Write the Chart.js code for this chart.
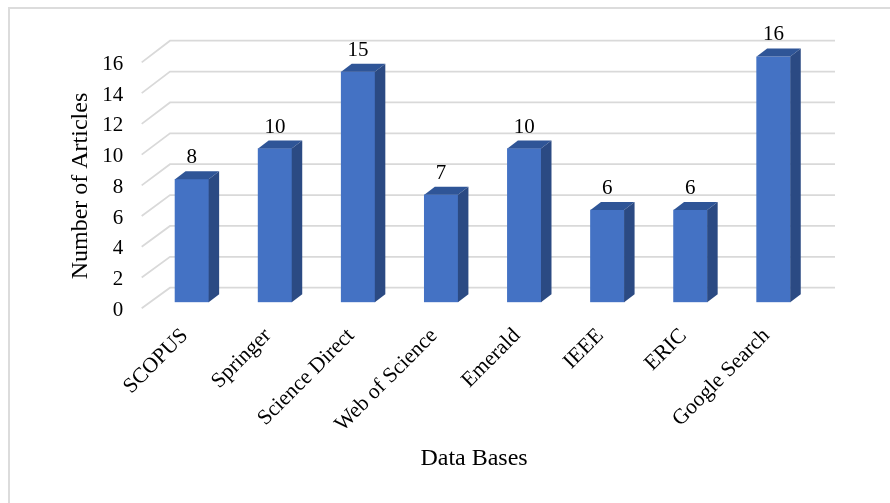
<!DOCTYPE html>
<html>
<head>
<meta charset="utf-8">
<script src="https://cdn.jsdelivr.net/npm/chart.js@4"></script>
<style>
html,body{margin:0;padding:0;background:#fff;overflow:hidden}
#wrap{position:relative;width:890px;height:503px}
#frame{position:absolute;left:8px;top:7px;right:0;bottom:0;border-top:2px solid #dcdcdc;border-left:2px solid #dcdcdc}
canvas{position:absolute;left:0;top:0}
</style>
</head>
<body>
<div id="wrap"><div id="frame"></div><canvas id="c" width="890" height="503"></canvas></div>
<script>
const categories = ["SCOPUS","Springer","Science Direct","Web of Science","Emerald","IEEE","ERIC","Google Search"];
const articleCounts = [8,10,15,7,10,6,6,16];
const seriesName = "Number of Articles";
const xAxisTitle = "Data Bases";
const yAxisTitle = "Number of Articles";

const FONT = '"Liberation Serif","Times New Roman",serif';
const DEPTH_X = 10.5, DEPTH_Y = 8;

const depthPlugin = {
  id: 'depth',
  beforeDatasetsDraw(chart) {
    const ctx = chart.ctx, y = chart.scales.y;
    const base = y.getPixelForValue(0);
    ctx.save();
    ctx.strokeStyle = '#d9d9d9';
    ctx.lineWidth = 1.8;
    y.ticks.forEach(t => {
      const p = y.getPixelForValue(t.value);
      const back = base - 14.6 + (p - base) * 1.0045;
      ctx.beginPath();
      ctx.moveTo(141.7, p + 6);
      ctx.lineTo(170, back);
      ctx.lineTo(835, back);
      ctx.stroke();
    });
    ctx.restore();
  },
  afterDatasetsDraw(chart) {
    const ctx = chart.ctx;
    const meta = chart.getDatasetMeta(0);
    const ds = chart.data.datasets[0];
    ctx.save();
    meta.data.forEach((bar, i) => {
      const l = bar.x - bar.width / 2, r = bar.x + bar.width / 2;
      // top face
      ctx.fillStyle = '#2f5597';
      ctx.beginPath();
      ctx.moveTo(l, bar.y);
      ctx.lineTo(l + DEPTH_X, bar.y - DEPTH_Y);
      ctx.lineTo(r + DEPTH_X, bar.y - DEPTH_Y);
      ctx.lineTo(r, bar.y);
      ctx.closePath();
      ctx.fill();
      // side face
      ctx.fillStyle = '#2b4a83';
      ctx.beginPath();
      ctx.moveTo(r, bar.y);
      ctx.lineTo(r + DEPTH_X, bar.y - DEPTH_Y);
      ctx.lineTo(r + DEPTH_X, bar.base - DEPTH_Y);
      ctx.lineTo(r, bar.base);
      ctx.closePath();
      ctx.fill();
      // value label
      ctx.fillStyle = '#000';
      ctx.font = '21px ' + FONT;
      ctx.textAlign = 'center';
      ctx.textBaseline = 'middle';
      ctx.fillText(String(ds.data[i]), bar.x, bar.y - 21.5);
    });
    ctx.restore();
  },
  beforeDraw(chart) {
    const shift = (scale, dx, dy) => {
      if (scale._titleShifted) return;
      const orig = scale.drawTitle;
      scale.drawTitle = function () {
        this.ctx.save();
        this.ctx.translate(dx, dy);
        orig.call(this);
        this.ctx.restore();
      };
      scale._titleShifted = true;
    };
    shift(chart.scales.x, -8.6, 3.2);
    shift(chart.scales.y, -2.4, 6.7);
  }
};

new Chart(document.getElementById('c'), {
  type: 'bar',
  data: {
    labels: categories,
    datasets: [{
      label: seriesName,
      data: articleCounts,
      backgroundColor: '#4472c4',
      borderWidth: 0,
      barThickness: 33.6
    }]
  },
  options: {
    responsive: false,
    animation: false,
    devicePixelRatio: 1,
    layout: { padding: { left: 69, top: 56.4, right: 75, bottom: 33 } },
    plugins: { legend: { display: false }, tooltip: { enabled: false } },
    scales: {
      x: {
        grid: { display: false, drawTicks: false },
        border: { display: false },
        ticks: { color: '#000', font: { family: FONT, size: 21.6 }, minRotation: 45, maxRotation: 45, padding: 21, labelOffset: -7, autoSkip: false },
        title: { display: true, text: xAxisTitle, color: '#000', font: { family: FONT, size: 24 }, padding: 0 },
        afterFit(s) { s.height = 167.7; }
      },
      y: {
        min: 0, max: 16,
        grid: { display: false, drawTicks: false },
        border: { display: false },
        ticks: { stepSize: 2, color: '#000', font: { family: FONT, size: 21 }, padding: 27, labelOffset: 8 },
        title: { display: true, text: yAxisTitle, color: '#000', font: { family: FONT, size: 24 }, padding: 0 },
        afterFit(s) { s.width = 81.3; }
      }
    }
  },
  plugins: [depthPlugin]
});
</script>
</body>
</html>
